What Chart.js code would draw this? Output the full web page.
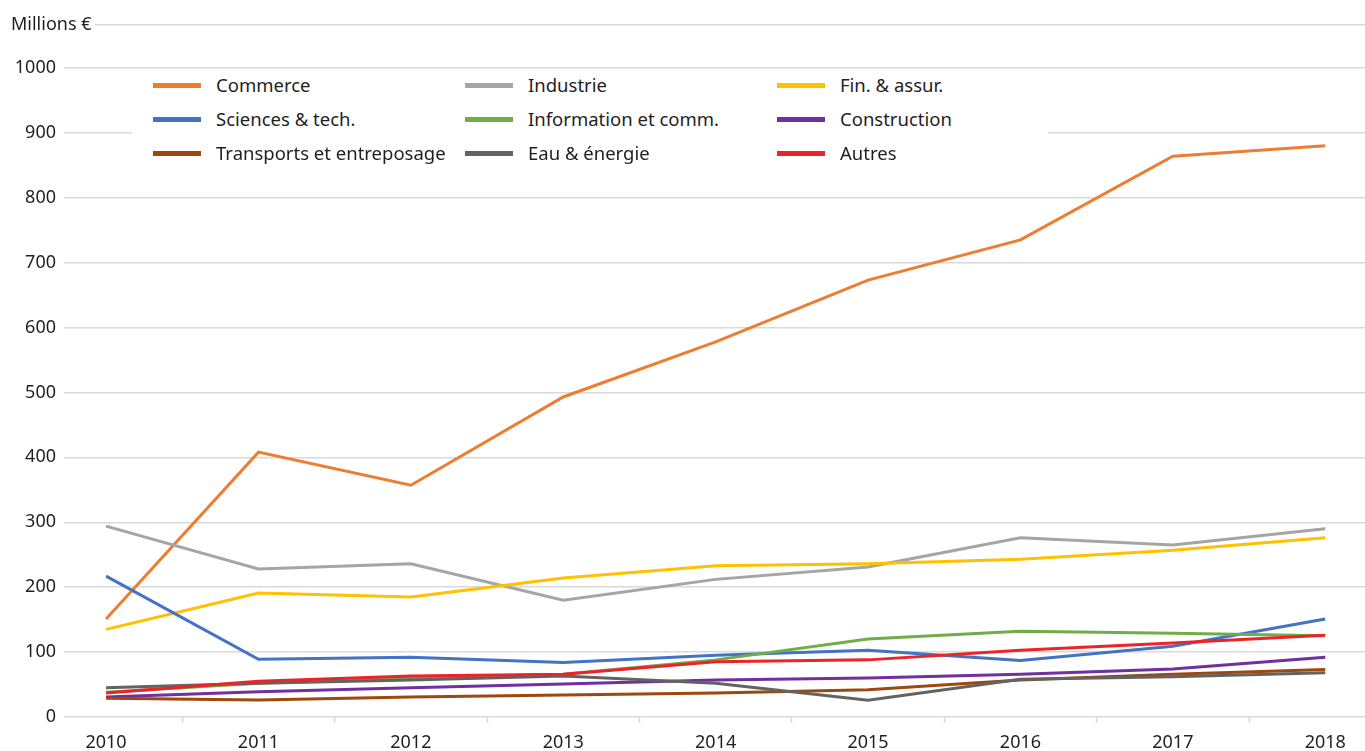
<!DOCTYPE html>
<html>
<head>
<meta charset="utf-8">
<script src="https://cdn.jsdelivr.net/npm/chart.js@4"></script>
<style>
  body { margin: 0; background: #fff; }
  #wrap { position: relative; width: 1365px; height: 751px; }
  #legend {
    position: absolute; left: 132px; top: 70px; width: 916px; height: 100px;
    background: #fff; font-family: "Noto Sans", sans-serif; font-size: 18.5px; color: #1f1f1f;
  }
  .item { position: absolute; height: 34px; line-height: 26px; white-space: nowrap; }
  .item span.sw { display: inline-block; width: 48px; height: 5px; vertical-align: middle; margin-right: 15px; }
  .item span.tx { vertical-align: middle; }
</style>
</head>
<body>
<div id="wrap">
  <canvas id="myChart" width="1365" height="751"></canvas>
  <div id="legend"></div>
</div>
<script>
var years = [2010, 2011, 2012, 2013, 2014, 2015, 2016, 2017, 2018];
var yTicks = [0, 100, 200, 300, 400, 500, 600, 700, 800, 900, 1000];
var unitLabel = "Millions €";

var commerce = [151, 408, 357, 493, 578, 673, 735, 864, 880];
var industrie = [294, 228, 236, 180, 212, 231, 276, 265, 290];
var finAssur = [135, 191, 185, 214, 233, 236, 243, 257, 276];
var sciences = [217, 89, 92, 84, 95, 103, 87, 109, 151];
var information = [38, 52, 60, 66, 88, 120, 132, 129, 125];
var construction = [31, 39, 45, 51, 57, 60, 66, 74, 92];
var transports = [29, 26, 31, 34, 37, 42, 57, 66, 73];
var eauEnergie = [45, 52, 57, 63, 52, 26, 58, 62, 68];
var autres = [37, 55, 63, 66, 85, 88, 103, 114, 126];

var seriesNames = ["Commerce", "Industrie", "Fin. & assur.", "Sciences & tech.", "Information et comm.",
    "Construction", "Transports et entreposage", "Eau & énergie", "Autres"];
var seriesValues = [commerce, industrie, finAssur, sciences, information, construction, transports, eauEnergie, autres];
var seriesColors = ["#ED7D31", "#A5A5A5", "#FFC000", "#4472C4", "#70AD47", "#7030A0", "#9E480E", "#636363", "#EE2229"];

var datasets = [];
for (var i = 0; i < seriesNames.length; i++) {
    var pts = [];
    for (var j = 0; j < years.length; j++) {
        pts.push({ x: years[j], y: seriesValues[i][j] });
    }
    datasets.push({
        label: seriesNames[i],
        data: pts,
        borderColor: seriesColors[i],
        backgroundColor: seriesColors[i],
        borderWidth: 3,
        pointRadius: 0,
        tension: 0,
        fill: false,
        order: seriesNames.length - i // later series on top, like the original
    });
}

var topValue = 1066; // top border line of the plot

var unitTitle = {
    id: 'unitTitle',
    afterDraw: function (chart) {
        var ctx = chart.ctx;
        ctx.save();
        ctx.fillStyle = '#fff';
        ctx.fillRect(0, 14, 95, 22);
        ctx.fillStyle = '#1f1f1f';
        ctx.font = '18px "Noto Sans"';
        ctx.textBaseline = 'middle';
        ctx.fillText(unitLabel, 11, 25);
        ctx.restore();
    }
};

var ctx = document.getElementById("myChart").getContext("2d");
var myChart = new Chart(ctx, {
    type: 'line',
    data: { datasets: datasets },
    plugins: [unitTitle],
    options: {
        responsive: false,
        animation: false,
        layout: { padding: { top: 25, left: 0, right: 0, bottom: 0 } },
        plugins: {
            legend: { display: false },
            tooltip: { enabled: false }
        },
        scales: {
            x: {
                type: 'linear',
                min: 2009.724,
                max: 2018.261,
                bounds: 'data',
                afterBuildTicks: function (scale) {
                    var t = [];
                    for (var k = 0; k < years.length; k++) {
                        t.push({ value: years[k] });
                        if (k < years.length - 1) t.push({ value: years[k] + 0.5 });
                    }
                    scale.ticks = t;
                },
                afterFit: function (scale) { scale.height = 34; },
                ticks: {
                    autoSkip: false,
                    maxRotation: 0,
                    padding: 9,
                    color: '#1f1f1f',
                    font: { family: 'Noto Sans', size: 18 },
                    callback: function (v) { return v % 1 === 0 ? String(v) : ''; }
                },
                grid: {
                    drawOnChartArea: false,
                    drawTicks: true,
                    tickLength: 6,
                    tickWidth: 1.5,
                    tickColor: function (c) {
                        return (c.tick && c.tick.value % 1 !== 0) ? '#d9d9d9' : 'rgba(0,0,0,0)';
                    }
                },
                border: { display: false }
            },
            y: {
                min: 0,
                max: topValue,
                afterBuildTicks: function (scale) {
                    var t = yTicks.map(function (v) { return { value: v }; });
                    t.push({ value: topValue });
                    scale.ticks = t;
                },
                afterFit: function (scale) { scale.width = 64; },
                ticks: {
                    padding: 8,
                    color: '#1f1f1f',
                    font: { family: 'Noto Sans', size: 18 },
                    callback: function (v) { return v === topValue ? '' : String(v); }
                },
                grid: {
                    color: '#d9d9d9',
                    lineWidth: 1.5,
                    drawTicks: false
                },
                border: { display: false }
            }
        }
    }
});

// html legend, 3 columns like the original
var legendBox = document.getElementById('legend');
myChart.data.datasets.forEach(function (ds, n) {
    var item = document.createElement('div');
    item.className = 'item';
    item.style.left = (21 + (n % 3) * 312) + 'px';
    item.style.top = (Math.floor(n / 3) * 34) + 'px';
    var sw = document.createElement('span');
    sw.className = 'sw';
    sw.style.background = ds.borderColor;
    var tx = document.createElement('span');
    tx.className = 'tx';
    tx.innerText = ds.label;
    item.appendChild(sw);
    item.appendChild(tx);
    legendBox.appendChild(item);
});
</script>
</body>
</html>
